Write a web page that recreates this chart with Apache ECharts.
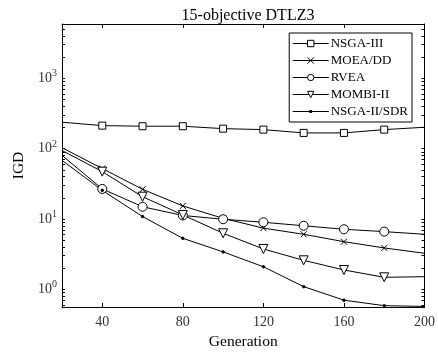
<!DOCTYPE html>
<html>
<head>
<meta charset="utf-8">
<script src="https://cdn.jsdelivr.net/npm/echarts@6/dist/echarts.min.js"></script>
<style>
  html, body { margin: 0; padding: 0; background: #fff; }
  #chart { width: 438px; height: 356px; }
</style>
</head>
<body>
<div id="chart"></div>
<script>
const generations = [20, 40, 60, 80, 100, 120, 140, 160, 180, 200];
const nsga3 = [237, 212, 208, 208, 192, 186, 167, 167, 186, 201];
const moeadd = [103, 52, 26.4, 15.3, 10.2, 7.4, 6.05, 4.75, 3.87, 3.25];
const rvea = [80, 26.7, 14.9, 11.2, 9.9, 8.97, 8.0, 7.13, 6.6, 6.05];
const mombi = [94, 47, 20.7, 11.4, 6.25, 3.74, 2.58, 1.88, 1.48, 1.51];
const sdr = [68, 25.5, 10.8, 5.3, 3.4, 2.09, 1.09, 0.70, 0.585, 0.57];
const xTicks = [40, 80, 120, 160, 200];
const yDecades = [1, 10, 100, 1000];

const yMinor = [];
for (let d = -1; d <= 3; d++) {
  for (let k = 1; k <= 9; k++) {
    const v = k * Math.pow(10, d);
    if (v >= 0.56 && v <= 5900) yMinor.push(v);
  }
}

const font = "Liberation Serif";
const black = "#000";
const crossPath = "path://M0,0L10,10M10,0L0,10";
// line with a small dot; the zero-length corners only fix the icon's bounds
const dotLegendIcon = "path://M0,0L0,0M36,8L36,8M0,4H36M17,3h2v2h-2z";

function toData(values) {
  return values.map((v, i) => {
    const last = i === 0 || i === values.length - 1;
    return last ? { value: [generations[i], v], symbol: "none" } : { value: [generations[i], v] };
  });
}

function makeSeries(name, values, symbol, size, filled, rotate) {
  return {
    name,
    type: "line",
    data: toData(values),
    symbol,
    symbolSize: size,
    symbolRotate: rotate || 0,
    showAllSymbol: true,
    lineStyle: { color: black, width: 1 },
    itemStyle: { color: filled ? black : "#fff", borderColor: black, borderWidth: 1 },
    emphasis: { disabled: true },
    z: 3
  };
}

const chart = echarts.init(document.getElementById("chart"), null, { renderer: "canvas" });

chart.setOption({
  animation: false,
  textStyle: { fontFamily: font, color: black },
  title: {
    text: "15-objective DTLZ3",
    left: 243,
    textAlign: "center",
    top: 3,
    textStyle: { fontFamily: font, fontSize: 16, fontWeight: "normal", color: black }
  },
  legend: {
    right: 26,
    top: 33,
    orient: "vertical",
    itemWidth: 36,
    itemHeight: 8,
    itemGap: 2,
    padding: [3, 4, 3, 3],
    borderColor: black,
    borderWidth: 1,
    backgroundColor: "#fff",
    lineStyle: { width: 1 },
    itemStyle: { borderWidth: 1 },
    textStyle: { fontFamily: font, fontSize: 13, color: black, padding: [0, 0, 0, -3], lineHeight: 15 },
    data: [
      "NSGA-III",
      "MOEA/DD",
      "RVEA",
      "MOMBI-II",
      { name: "NSGA-II/SDR", icon: dotLegendIcon }
    ]
  },
  grid: { left: 62, right: 13, top: 24, bottom: 49 },
  xAxis: [
    {
      type: "value",
      min: 20,
      max: 200,
      name: "Generation",
      nameLocation: "middle",
      nameGap: 26,
      nameTextStyle: { fontFamily: font, fontSize: 15.5, color: black },
      axisLine: { lineStyle: { color: black, width: 1 } },
      axisTick: { inside: true, length: 4, customValues: xTicks, lineStyle: { color: black } },
      axisLabel: { customValues: xTicks, fontFamily: font, fontSize: 14, color: "#333", margin: 8 },
      splitLine: { show: false }
    },
    {
      type: "value",
      min: 20,
      max: 200,
      position: "top",
      axisLine: { lineStyle: { color: black, width: 1 } },
      axisTick: { inside: true, length: 4, customValues: xTicks, lineStyle: { color: black } },
      axisLabel: { show: false },
      splitLine: { show: false }
    }
  ],
  yAxis: [
    {
      type: "log",
      min: 0.56,
      max: 5900,
      name: "IGD",
      nameLocation: "middle",
      nameGap: 33,
      nameTextStyle: { fontFamily: font, fontSize: 15.5, color: black },
      axisLine: { lineStyle: { color: black, width: 1 } },
      axisTick: { inside: true, length: 3, customValues: yMinor, lineStyle: { color: black } },
      axisLabel: {
        customValues: yDecades,
        fontFamily: font,
        fontSize: 14,
        color: "#333",
        margin: 5,
        formatter: (v) => "10{sup|" + Math.round(Math.log10(v)) + "}",
        rich: { sup: { fontSize: 10, fontFamily: font, color: "#333", padding: [0, 0, 9, 0], verticalAlign: "bottom" } }
      },
      splitLine: { show: false }
    },
    {
      type: "log",
      min: 0.56,
      max: 5900,
      position: "right",
      axisLine: { lineStyle: { color: black, width: 1 } },
      axisTick: { inside: true, length: 3, customValues: yMinor, lineStyle: { color: black } },
      axisLabel: { show: false },
      splitLine: { show: false }
    }
  ],
  series: [
    makeSeries("NSGA-III", nsga3, "rect", 7, false),
    makeSeries("MOEA/DD", moeadd, crossPath, 6, false),
    makeSeries("RVEA", rvea, "circle", 9, false),
    makeSeries("MOMBI-II", mombi, "triangle", 9, false, 180),
    makeSeries("NSGA-II/SDR", sdr, "circle", 2.5, true)
  ]
});
</script>
</body>
</html>
